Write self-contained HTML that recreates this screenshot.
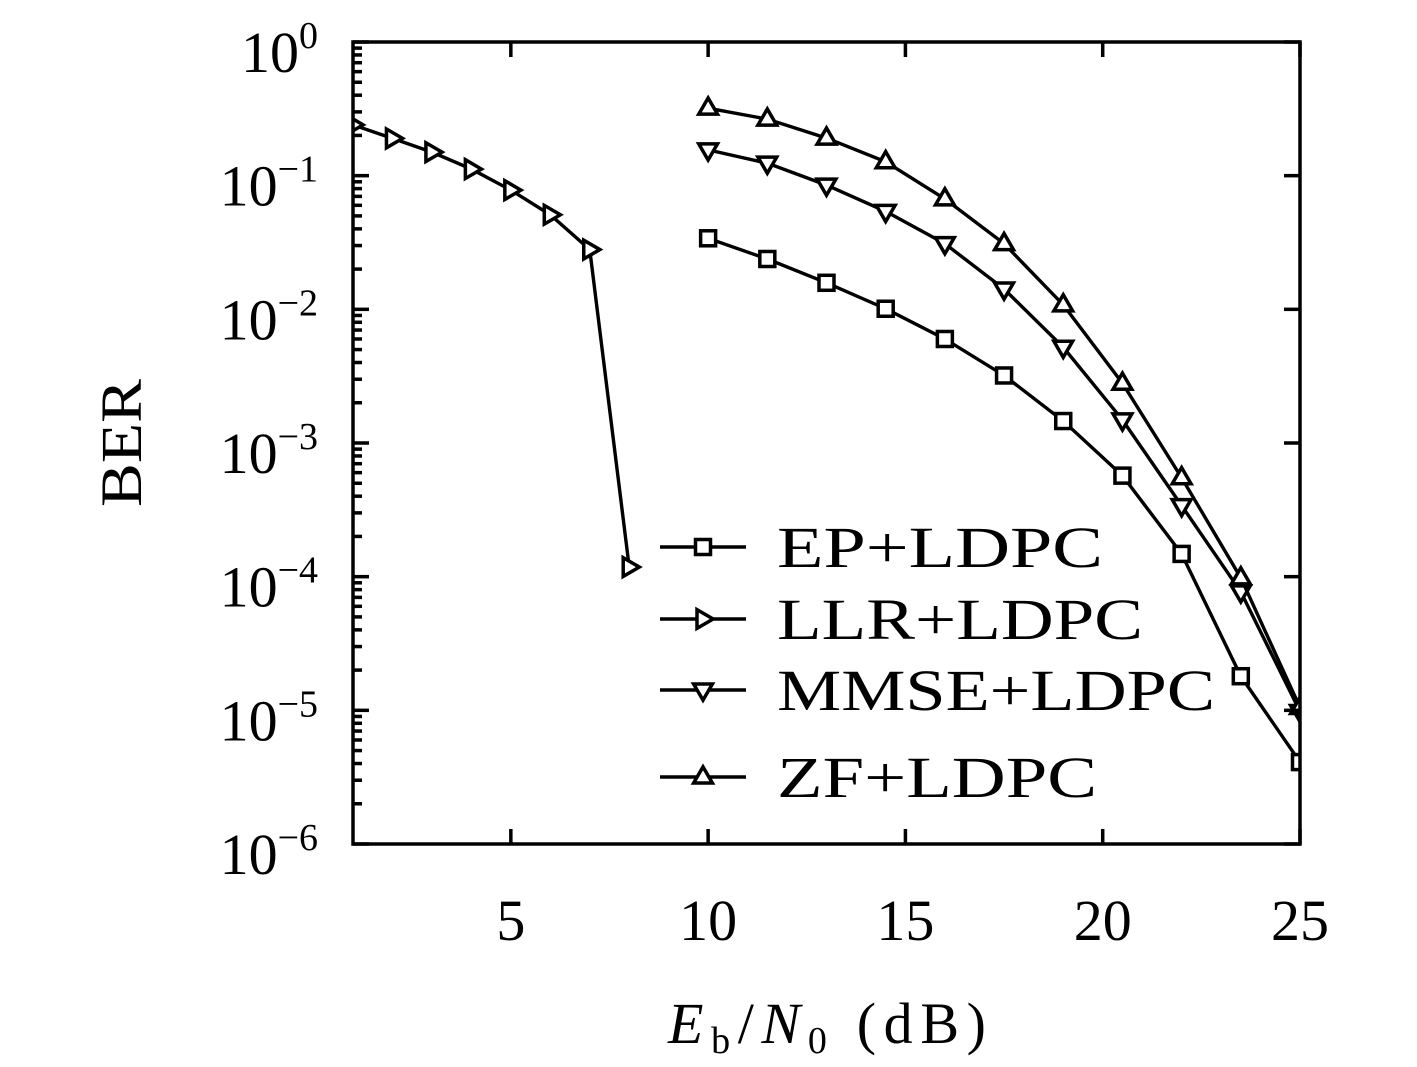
<!DOCTYPE html>
<html><head><meta charset="utf-8"><style>
html,body{margin:0;padding:0;background:#fff;}
svg{display:block;font-family:"Liberation Serif",serif;}
</style></head><body>
<svg id="chart" width="1417" height="1067" viewBox="0 0 1417 1067" xmlns="http://www.w3.org/2000/svg">
<g id="plot"></g>
<text x="0" y="0" transform="translate(141,443) rotate(-90)" text-anchor="middle" font-size="58" textLength="128" lengthAdjust="spacingAndGlyphs">BER</text>
<text x="668" y="1043" font-size="58" textLength="318" lengthAdjust="spacing"><tspan font-style="italic">E</tspan><tspan font-size="38" dy="10">b</tspan><tspan dy="-10">/</tspan><tspan font-style="italic">N</tspan><tspan font-size="38" dy="10">0</tspan><tspan dy="-10"> (dB)</tspan></text>
</svg>
<script>
const xTicks=[5,10,15,20,25];
const yExps=[0,-1,-2,-3,-4,-5,-6];
const llrX=[1,2,3,4,5,6,7,8];
const llrY=[0.24,0.19,0.15,0.112,0.078,0.051,0.028,1.18e-4];
const gridX=[10,11.5,13,14.5,16,17.5,19,20.5,22,23.5,25];
const epY=[0.034,0.0238,0.0158,0.0101,0.006,0.0032,0.00146,5.7e-4,1.48e-4,1.8e-5,4.1e-6];
const mmseY=[0.156,0.124,0.085,0.054,0.031,0.0142,0.0052,0.00149,3.4e-4,7.7e-5,9.8e-6];
const zfY=[0.32,0.265,0.191,0.127,0.067,0.031,0.0108,0.0028,5.5e-4,9.8e-5,1.05e-5];
const legendLabels=["EP+LDPC","LLR+LDPC","MMSE+LDPC","ZF+LDPC"];

const L=353,R=1300,T=42,B=844;
const sx=v=>L+(v-1)*(R-L)/24;
const sy=v=>T+(-Math.log10(v))*(B-T)/6;
const NS="http://www.w3.org/2000/svg";
const svg=document.getElementById('chart');
const plot=document.getElementById('plot');
function mk(tag,attrs,parent){const e=document.createElementNS(NS,tag);for(const k in attrs)e.setAttribute(k,attrs[k]);(parent||svg).appendChild(e);return e;}

const defs=mk('defs',{});
const cp=mk('clipPath',{id:'clip'},defs);
mk('rect',{x:L,y:T,width:R-L,height:B-T},cp);
const g=mk('g',{'clip-path':'url(#clip)'},plot);

function marker(type,x,y,parent){
  const s=7.5;let e;
  if(type==='sq'){e=mk('rect',{x:x-s,y:y-s,width:2*s,height:2*s},parent);}
  else{let p;
    if(type==='right')p=[[x+s*1.35,y],[x-s*0.8,y-s*1.25],[x-s*0.8,y+s*1.25]];
    else if(type==='down')p=[[x,y+s*1.35],[x-s*1.25,y-s*0.8],[x+s*1.25,y-s*0.8]];
    else p=[[x,y-s*1.35],[x-s*1.25,y+s*0.8],[x+s*1.25,y+s*0.8]];
    e=mk('polygon',{points:p.map(q=>q.join(',')).join(' ')},parent);}
  e.setAttribute('fill','#fff');e.setAttribute('stroke','#000');e.setAttribute('stroke-width','3.5');
  return e;
}
function series(name,xs,ys,type){
  const sg=mk('g',{},g);
  
  
  const pl=mk('polyline',{points:xs.map((x,i)=>sx(x)+','+sy(ys[i])).join(' '),fill:'none',stroke:'#000','stroke-width':3.4},sg);
  
  
  xs.forEach((x,i)=>{const m=marker(type,sx(x),sy(ys[i]),sg);
    
    });
}
series('ep-ldpc-series',gridX,epY,'sq');
series('llr-ldpc-series',llrX,llrY,'right');
series('mmse-ldpc-series',gridX,mmseY,'down');
series('zf-ldpc-series',gridX,zfY,'up');

const fr=mk('rect',{x:L,y:T,width:R-L,height:B-T,fill:'none',stroke:'#000','stroke-width':3.5},plot);



xTicks.forEach(v=>{
  const x=sx(v);
  mk('line',{x1:x,x2:x,y1:B,y2:B-15,stroke:'#000','stroke-width':3.5},plot);
  mk('line',{x1:x,x2:x,y1:T,y2:T+15,stroke:'#000','stroke-width':3.5},plot);
  const t=mk('text',{x:x,y:940,'text-anchor':'middle','font-size':58},plot);
  t.textContent=v;
  
  
});
yExps.forEach(e=>{
  const y=sy(Math.pow(10,e));
  mk('line',{x1:L,x2:L+16,y1:y,y2:y,stroke:'#000','stroke-width':3.5},plot);
  mk('line',{x1:R,x2:R-16,y1:y,y2:y,stroke:'#000','stroke-width':3.5},plot);
  if(e>-6){for(let k=2;k<=9;k++){const yy=sy(k*Math.pow(10,e-1));
    mk('line',{x1:L,x2:L+9,y1:yy,y2:yy,stroke:'#000','stroke-width':3.5},plot);}}
  const t=mk('text',{x:318,y:y+30,'text-anchor':'end','font-size':58},plot);
  
  
  const a=mk('tspan',{},t);a.textContent='10';
  const b=mk('tspan',{'font-size':38,dy:-24},t);b.textContent=e===0?'0':'\u2212'+(-e);
});

const legY=[547,619,690,777];
const legT=['sq','right','down','up'];
const legW=[326,366,438,320];
const lg=mk('g',{},plot);


legendLabels.forEach((lab,i)=>{
  const eg=mk('g',{},lg);
  
  
  mk('line',{x1:660,x2:746,y1:legY[i],y2:legY[i],stroke:'#000','stroke-width':3.4},eg);
  marker(legT[i],703,legY[i],eg);
  const t=mk('text',{x:777,y:legY[i]+20,'font-size':58,textLength:legW[i],lengthAdjust:'spacingAndGlyphs'},eg);
  t.textContent=lab;
});
</script>
</body></html>
